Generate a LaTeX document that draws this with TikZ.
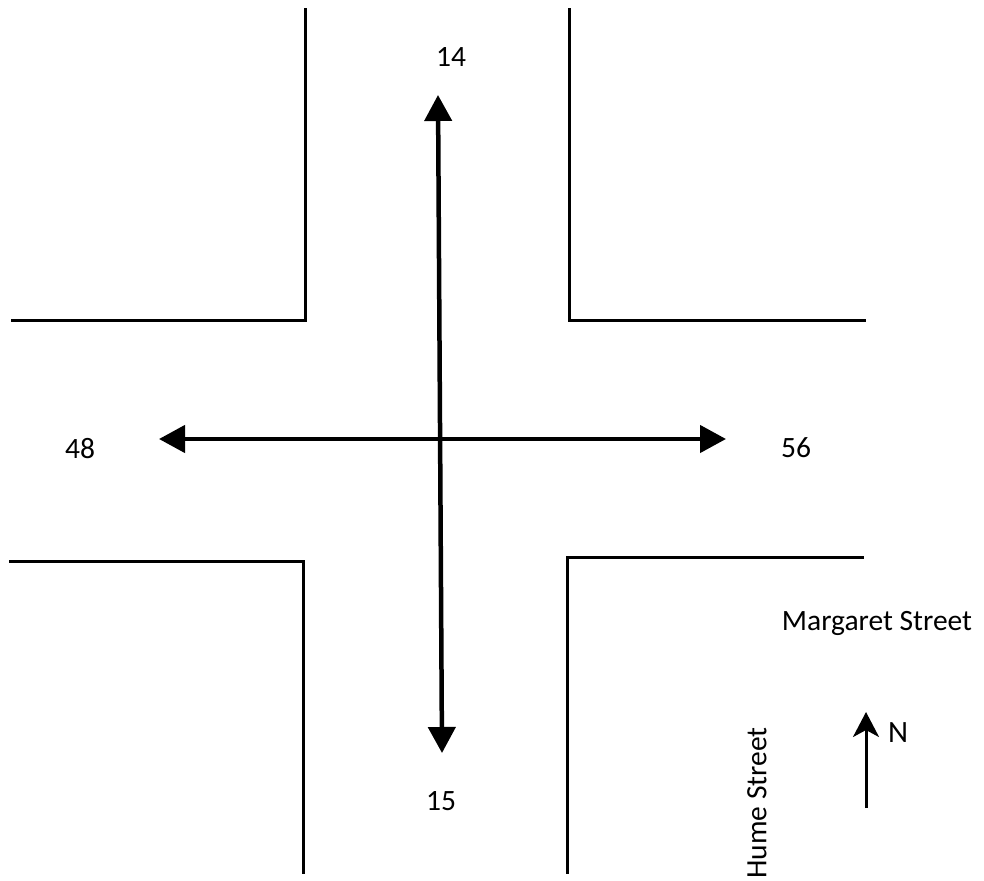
\documentclass[tikz,border=0pt]{standalone}
\usepackage{fontspec}
\setmainfont{Carlito}
\usetikzlibrary{arrows.meta}
\begin{document}
\begin{tikzpicture}[x=1pt,y=-1pt,
  kerb/.style={line width=3pt,line cap=rect},
  flow/.style={line width=4.5pt,{Triangle[length=26pt,width=27pt]}-{Triangle[length=26pt,width=27pt]}},
  north/.style={line width=3pt,-{Stealth[length=25pt,width=26pt,inset=7pt]}},
  lbl/.style={font=\fontsize{29.5}{33}\selectfont,inner sep=0pt}]
\useasboundingbox (0,0) rectangle (984,880);
% kerb lines of the four corners
\draw[kerb] (12,320) -- (305,320) -- (305,10);
\draw[kerb] (569,10) -- (569,320) -- (864,320);
\draw[kerb] (10,561) -- (303,561) -- (303,872);
\draw[kerb] (862,557) -- (567,557) -- (567,872);
% traffic directions
\coordinate (ntip) at (438,95);
\coordinate (stip) at (442,753);
\coordinate (wtip) at (159,439);
\coordinate (etip) at (726,439);
\draw[flow] (ntip) -- (stip);
\draw[flow] (wtip) -- (etip);
% counts
\node[lbl] (c14) at (451,57) {14};
\node[lbl] (c48) at (80,449) {48};
\node[lbl] (c56) at (796,448) {56};
\node[lbl] (c15) at (441,801) {15};
% street names
\node[lbl] (marg) at (877,623) {Margaret Street};
\node[lbl,rotate=90] (hume) at (757,803) {Hume Street};
% north arrow
\coordinate (nbase) at (866,808);
\coordinate (nhead) at (866,712);
\draw[north] (nbase) -- (nhead);
\node[font=\fontsize{31}{34}\selectfont,inner sep=0pt,anchor=base] (nlab) at (898,742) {N};
\end{tikzpicture}
\end{document}
